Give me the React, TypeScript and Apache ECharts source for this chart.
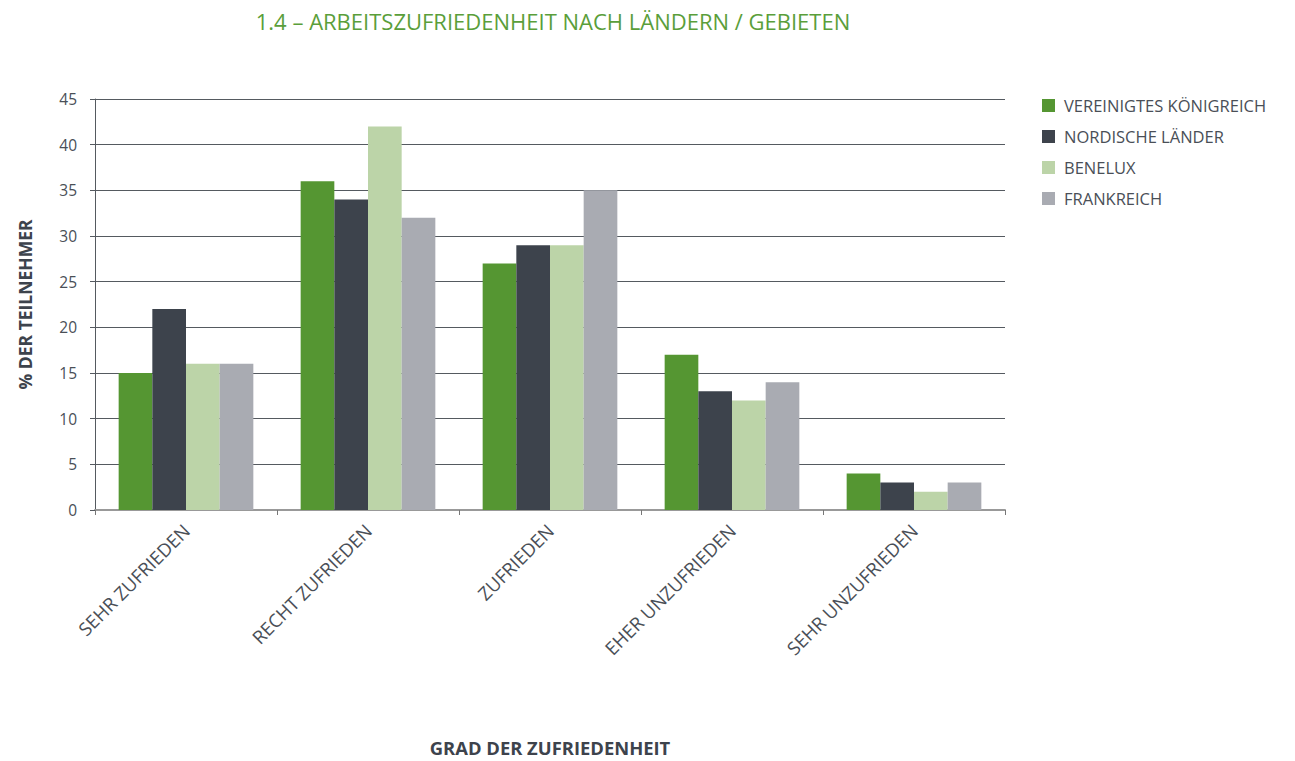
import React, { useEffect, useRef } from "react";
import * as echarts from "echarts";

const categories = ["SEHR ZUFRIEDEN", "RECHT ZUFRIEDEN", "ZUFRIEDEN", "EHER UNZUFRIEDEN", "SEHR UNZUFRIEDEN"];
const seriesNames = ["VEREINIGTES KÖNIGREICH", "NORDISCHE LÄNDER", "BENELUX", "FRANKREICH"];
const ukValues = [15, 36, 27, 17, 4];
const nordicValues = [22, 34, 29, 13, 3];
const beneluxValues = [16, 42, 29, 12, 2];
const franceValues = [16, 32, 35, 14, 3];
const colors = ["#559632", "#3d434c", "#bcd4a8", "#a9abb2"];

const FONT = "'Open Sans', 'Noto Sans', sans-serif";

export default function App() {
  const ref = useRef<HTMLDivElement>(null);
  useEffect(() => {
    if (!ref.current) return;
    const chart = echarts.init(ref.current, undefined, { renderer: "svg" });
    const data = [ukValues, nordicValues, beneluxValues, franceValues];
    chart.setOption({
      animation: false,
      textStyle: { fontFamily: FONT },
      title: {
        text: "1.4 – ARBEITSZUFRIEDENHEIT NACH LÄNDERN / GEBIETEN",
        left: 548,
        textAlign: "center",
        top: 5,
        textStyle: { color: "#5a9e3a", fontSize: 22, fontWeight: "normal", fontFamily: FONT },
      },
      legend: {
        orient: "vertical",
        left: 1037,
        top: 92,
        itemWidth: 13,
        itemHeight: 13,
        itemGap: 14,
        icon: "rect",
        textStyle: { color: "#4a4f57", fontSize: 16.5, fontFamily: FONT, padding: [0, 0, 0, 4] },
        data: seriesNames,
      },
      grid: { left: 95, width: 910, top: 99, height: 426, containLabel: false },
      xAxis: {
        type: "category",
        data: categories,
        name: "GRAD DER ZUFRIEDENHEIT",
        nameLocation: "middle",
        nameGap: 228,
        nameTextStyle: { color: "#3d434c", fontSize: 18.4, fontWeight: "bold", fontFamily: FONT },
        axisLine: { lineStyle: { color: "#999999", width: 2 } },
        axisTick: { show: true, alignWithLabel: false, length: 5, lineStyle: { color: "#777" } },
        axisLabel: {
          rotate: 45,
          color: "#4a4f57",
          fontSize: 18.5,
          fontFamily: FONT,
          margin: 17,
          interval: 0,
        },
      },
      yAxis: {
        type: "value",
        min: 0,
        max: 45,
        interval: 5,
        name: "% DER TEILNEHMER",
        nameLocation: "middle",
        nameGap: 61,
        nameTextStyle: { color: "#3d434c", fontSize: 17.5, fontWeight: "bold", fontFamily: FONT },
        axisLine: { show: true, lineStyle: { color: "#555a60", width: 1 } },
        axisTick: { show: true, length: 5, lineStyle: { color: "#555a60" } },
        axisLabel: { color: "#4a4f57", fontSize: 15.5, fontFamily: FONT, margin: 18 },
        splitLine: { show: true, lineStyle: { color: "#555a60", width: 1 } },
      },
      series: seriesNames.map((name, i) => ({
        name,
        type: "bar",
        data: data[i],
        itemStyle: { color: colors[i] },
        barGap: "0%",
        barCategoryGap: "26%",
      })),
    });
    return () => chart.dispose();
  }, []);
  return <div ref={ref} style={{ width: 1295, height: 761, position: "absolute", left: 0, top: 0 }} />;
}
